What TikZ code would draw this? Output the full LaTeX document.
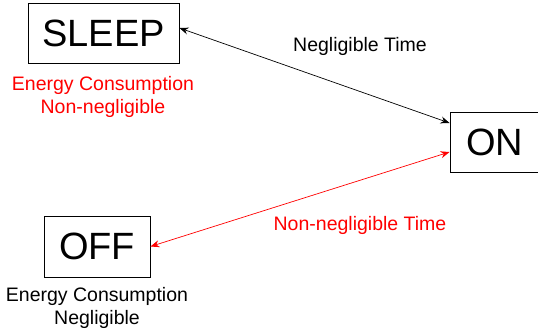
\documentclass[tikz,border=0pt]{standalone}
\usepackage{fontspec}
\setmainfont{Liberation Sans}
\usetikzlibrary{arrows.meta,positioning}
\begin{document}
\begin{tikzpicture}[
        x=1pt, y=-1pt,
        state/.style={draw, line width=0.9pt, font=\fontsize{38}{40}\selectfont, inner sep=0pt},
        note/.style={font=\fontsize{19.5}{23}\selectfont, align=center, inner sep=0pt},
        slow/.style={red},
        link/.style={{Stealth[length=9pt,width=7pt,inset=3pt]}-{Stealth[length=9pt,width=7pt,inset=3pt]}, line width=0.7pt}
    ]
        \useasboundingbox (0,0) rectangle (538,332);

        % States
        \node[state, minimum width=151pt, minimum height=60pt] (sleep) at (103.5,33) {SLEEP};
        \node[state, minimum width=89pt, minimum height=60pt] (on) at (494.5,142) {ON};
        \node[state, minimum width=106pt, minimum height=61pt] (off) at (97,246.5) {OFF};

        % Energy notes
        \node[note, slow] (sleepnote) at (103,97) {Energy Consumption\\Non-negligible};
        \node[note] (offnote) at (97,308) {Energy Consumption\\Negligible};

        % Transitions
        \draw[link] ([yshift=5pt]sleep.east) -- ([yshift=19pt]on.west);
        \draw[link, slow] (off.east) -- ([yshift=-10pt]on.west);
        \node[note] (fast) at (360,46) {Negligible Time};
        \node[note, slow] (delay) at (360,225) {Non-negligible Time};
    \end{tikzpicture}
\end{document}
